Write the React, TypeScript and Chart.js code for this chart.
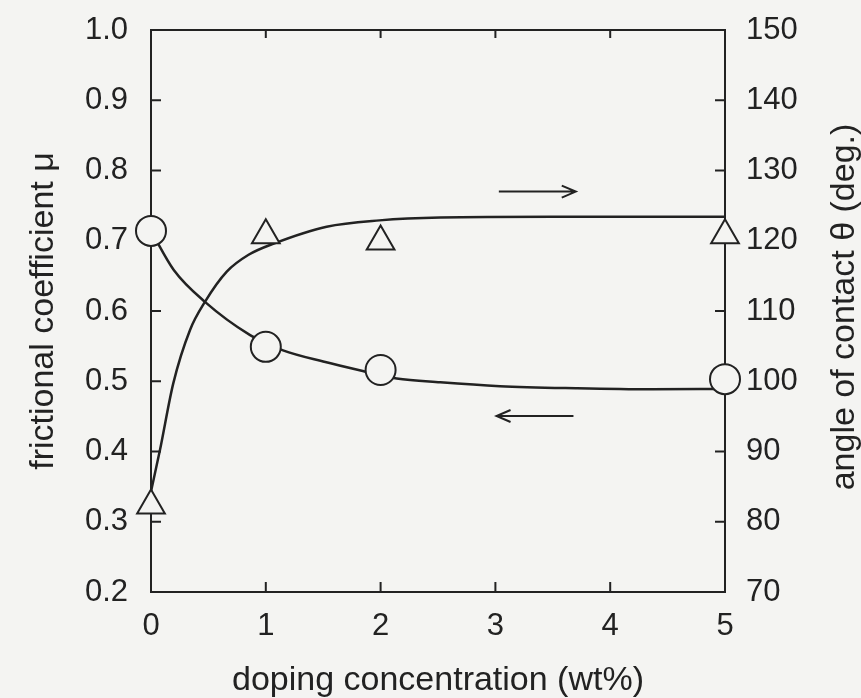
import React, { useEffect, useRef } from "react";
import { Chart, registerables } from "chart.js";

Chart.register(...registerables);

// ---- data ----
const concentration = [0, 1, 2, 5];
const frictionMu = [0.714, 0.549, 0.516, 0.503];
const contactAngle = [82.3, 120.8, 119.9, 120.8];

// fitted curves
const muCurveX = [0, 0.2, 0.47, 0.86, 1, 1.15, 1.5, 1.86, 2.14, 2.52, 3.04, 3.7, 4.35, 5];
const muCurveY = [0.714, 0.658, 0.613, 0.566, 0.555, 0.544, 0.528, 0.514, 0.504, 0.4985, 0.493, 0.49, 0.4885, 0.489];
const thetaCurveX = [0, 0.078, 0.194, 0.34, 0.47, 0.66, 0.85, 1.07, 1.53, 1.99, 2.52, 3.5, 5];
const thetaCurveY = [84.3, 90.2, 99.7, 107.3, 111.3, 115.6, 118.0, 119.6, 122.0, 122.9, 123.3, 123.4, 123.4];

const xTicks = [0, 1, 2, 3, 4, 5];
const muTicks = [0.2, 0.3, 0.4, 0.5, 0.6, 0.7, 0.8, 0.9, 1.0];
const thetaTicks = [70, 80, 90, 100, 110, 120, 130, 140, 150];

// arrows: [xStart, xEnd, value]
const arrowTheta = [3.03, 3.7, 127.0];
const arrowMu = [3.68, 3.01, 0.4505];

const xTitle = "doping concentration (wt%)";
const muTitle = "frictional coefficient \u03bc";
const thetaTitle = "angle of contact \u03b8 (deg.)";

const BG = "#f4f4f2";
const INK = "#222222";
const FONT = "'Liberation Sans', Arial, Helvetica, sans-serif";

function drawArrow(ctx: CanvasRenderingContext2D, x0: number, x1: number, y: number) {
  const dir = x1 > x0 ? 1 : -1;
  ctx.beginPath();
  ctx.moveTo(x0, y);
  ctx.lineTo(x1, y);
  ctx.moveTo(x1 - dir * 14, y - 6);
  ctx.lineTo(x1, y);
  ctx.lineTo(x1 - dir * 14, y + 6);
  ctx.stroke();
}

function noPad(s: any) {
  s.paddingTop = 0;
  s.paddingBottom = 0;
  s.paddingLeft = 0;
  s.paddingRight = 0;
}

const decorPlugin = {
  id: "decor",
  beforeDraw(chart: any) {
    const ctx = chart.ctx;
    ctx.save();
    ctx.fillStyle = BG;
    ctx.fillRect(0, 0, chart.width, chart.height);
    ctx.restore();
  },
  beforeDatasetsDraw(chart: any) {
    const ctx = chart.ctx;
    const a = chart.chartArea;
    const sx = chart.scales.x;
    const sy = chart.scales.y;
    const sy2 = chart.scales.y2;
    ctx.save();
    ctx.strokeStyle = INK;
    ctx.lineWidth = 2;
    ctx.strokeRect(a.left, a.top, a.right - a.left, a.bottom - a.top);
    ctx.beginPath();
    xTicks.forEach((v) => {
      const px = sx.getPixelForValue(v);
      ctx.moveTo(px, a.bottom);
      ctx.lineTo(px, a.bottom - 10);
      ctx.moveTo(px, a.top);
      ctx.lineTo(px, a.top + 8);
    });
    muTicks.forEach((v) => {
      const py = sy.getPixelForValue(v);
      ctx.moveTo(a.left, py);
      ctx.lineTo(a.left + 10, py);
    });
    thetaTicks.forEach((v) => {
      const py = sy2.getPixelForValue(v);
      ctx.moveTo(a.right, py);
      ctx.lineTo(a.right - 10, py);
    });
    ctx.stroke();
    ctx.restore();
  },
  afterDraw(chart: any) {
    const ctx = chart.ctx;
    const a = chart.chartArea;
    const sx = chart.scales.x;
    const sy = chart.scales.y;
    const sy2 = chart.scales.y2;
    ctx.save();
    ctx.strokeStyle = INK;
    ctx.lineWidth = 2;
    drawArrow(ctx, sx.getPixelForValue(arrowTheta[0]), sx.getPixelForValue(arrowTheta[1]), sy2.getPixelForValue(arrowTheta[2]));
    drawArrow(ctx, sx.getPixelForValue(arrowMu[0]), sx.getPixelForValue(arrowMu[1]), sy.getPixelForValue(arrowMu[2]));

    ctx.fillStyle = INK;
    ctx.font = `34px ${FONT}`;
    ctx.textAlign = "center";
    ctx.textBaseline = "alphabetic";
    ctx.fillText(xTitle, (a.left + a.right) / 2, 690);

    const cy = (a.top + a.bottom) / 2;
    ctx.save();
    ctx.translate(53, cy);
    ctx.rotate(-Math.PI / 2);
    ctx.fillText(muTitle, 0, 0);
    ctx.restore();

    ctx.save();
    ctx.translate(854, cy - 4);
    ctx.rotate(-Math.PI / 2);
    ctx.fillText(thetaTitle, 0, 0);
    ctx.restore();
    ctx.restore();
  },
};

export default function App() {
  const ref = useRef<HTMLCanvasElement | null>(null);
  useEffect(() => {
    if (!ref.current) return;
    const tickFont = { family: FONT, size: 31 };
    const chart = new Chart(ref.current, {
      type: "scatter",
      data: {
        datasets: [
          {
            label: "mu",
            data: concentration.map((x, i) => ({ x, y: frictionMu[i] })),
            yAxisID: "y",
            pointStyle: "circle",
            pointRadius: 15,
            pointBackgroundColor: BG,
            pointBorderColor: INK,
            pointBorderWidth: 2,
            showLine: false,
            clip: false,
            order: 0,
          },
          {
            label: "theta",
            data: concentration.map((x, i) => ({ x, y: contactAngle[i] })),
            yAxisID: "y2",
            pointStyle: "triangle",
            pointRadius: 16,
            pointBackgroundColor: BG,
            pointBorderColor: INK,
            pointBorderWidth: 2,
            showLine: false,
            clip: false,
            order: 0,
          },
          {
            label: "mu fit",
            data: muCurveX.map((x, i) => ({ x, y: muCurveY[i] })),
            yAxisID: "y",
            showLine: true,
            pointRadius: 0,
            borderColor: INK,
            borderWidth: 2.5,
            cubicInterpolationMode: "monotone",
            order: 5,
          },
          {
            label: "theta fit",
            data: thetaCurveX.map((x, i) => ({ x, y: thetaCurveY[i] })),
            yAxisID: "y2",
            showLine: true,
            pointRadius: 0,
            borderColor: INK,
            borderWidth: 2.5,
            cubicInterpolationMode: "monotone",
            order: 5,
          },
        ] as any,
      },
      options: {
        animation: false,
        responsive: false,
        layout: { padding: { top: 30, left: 0, right: 0, bottom: 0 } },
        plugins: { legend: { display: false }, tooltip: { enabled: false } },
        scales: {
          x: {
            type: "linear",
            min: 0,
            max: 5,
            afterBuildTicks: (s: any) => { s.ticks = xTicks.map((v) => ({ value: v })); },
            ticks: { font: tickFont, color: INK, padding: 16, maxRotation: 0 },
            grid: { display: false, drawTicks: false },
            border: { display: false },
            afterFit: (s: any) => { s.height = 106; noPad(s); },
          },
          y: {
            type: "linear",
            position: "left",
            min: 0.2,
            max: 1.0,
            afterBuildTicks: (s: any) => { s.ticks = muTicks.map((v) => ({ value: v })); },
            ticks: { font: tickFont, color: INK, padding: 23, callback: (v: any) => Number(v).toFixed(1) },
            grid: { display: false, drawTicks: false },
            border: { display: false },
            afterFit: (s: any) => { s.width = 151; noPad(s); },
          },
          y2: {
            type: "linear",
            position: "right",
            min: 70,
            max: 150,
            afterBuildTicks: (s: any) => { s.ticks = thetaTicks.map((v) => ({ value: v })); },
            ticks: { font: tickFont, color: INK, padding: 21 },
            grid: { display: false, drawTicks: false },
            border: { display: false },
            afterFit: (s: any) => { s.width = 136; noPad(s); },
          },
        },
      } as any,
      plugins: [decorPlugin],
    });
    return () => chart.destroy();
  }, []);
  return (
    <div style={{ position: "fixed", left: 0, top: 0, width: 861, height: 698, background: BG }}>
      <canvas ref={ref} width={861} height={698} />
    </div>
  );
}
